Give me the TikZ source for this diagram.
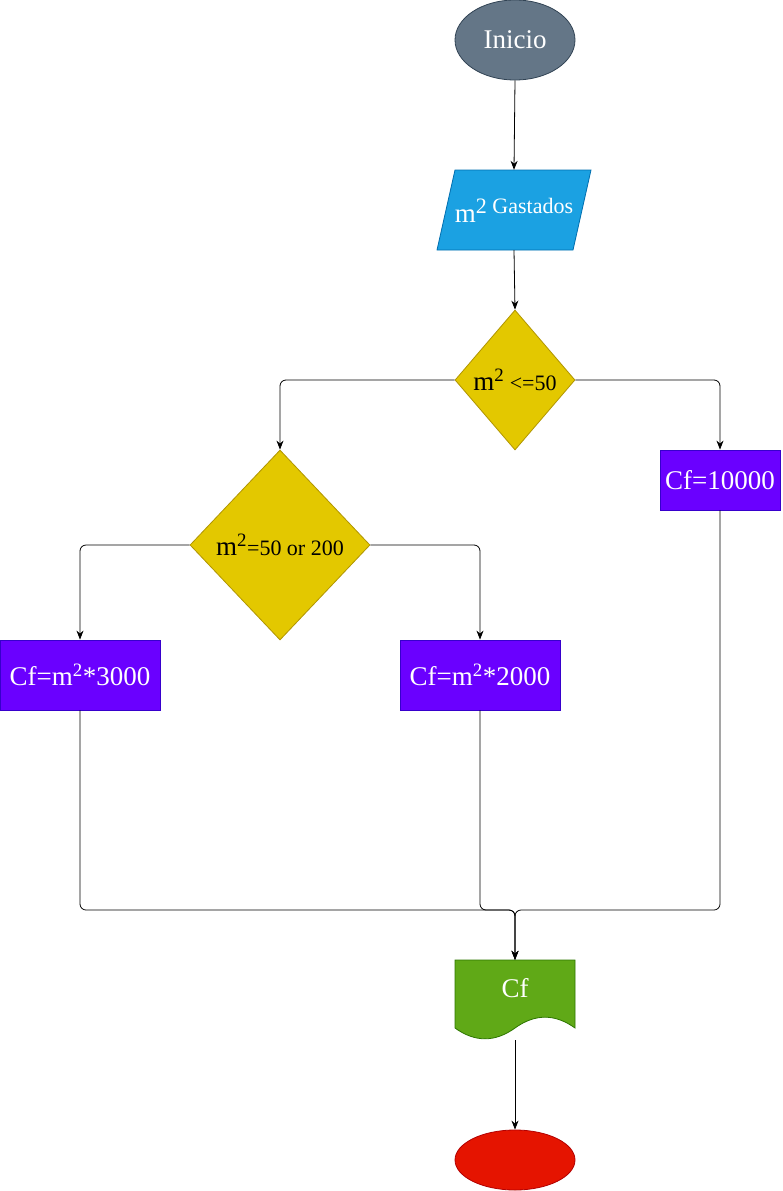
\documentclass[tikz,border=0pt]{standalone}
\usepackage{fontspec}
\setmainfont{Liberation Serif}
\usetikzlibrary{shapes.geometric,arrows.meta}
\definecolor{grisDebut}{HTML}{647687}
\definecolor{grisDebutBord}{HTML}{314354}
\definecolor{bleuEntree}{HTML}{1BA1E2}
\definecolor{bleuEntreeBord}{HTML}{006EAF}
\definecolor{jauneTest}{HTML}{E3C800}
\definecolor{jauneTestBord}{HTML}{B09500}
\definecolor{violetCalcul}{HTML}{6A00FF}
\definecolor{violetCalculBord}{HTML}{3700CC}
\definecolor{vertSortie}{HTML}{60A917}
\definecolor{vertSortieBord}{HTML}{2D7600}
\definecolor{rougeFin}{HTML}{E51400}
\definecolor{rougeFinBord}{HTML}{B20000}
\newcommand{\Grand}{\fontsize{27}{32}\selectfont}
\newcommand{\Petit}{\fontsize{22}{26}\selectfont}
\begin{document}
\begin{tikzpicture}[x=1pt,y=-1pt]
	% Styles
	\tikzstyle{fleche}=[->,>={Stealth[length=9pt,width=7pt]},line width=0.8pt,rounded corners=6pt]
	\tikzstyle{terminal}=[ellipse,inner sep=0pt,minimum width=120pt,line width=0.8pt]
	\tikzstyle{entree}=[rectangle,minimum width=136pt,minimum height=80pt,inner sep=0pt,text=white]
	\tikzstyle{ecran}=[fill=bleuEntree,draw=bleuEntreeBord,line width=0.8pt]
	\tikzstyle{test}=[diamond,inner sep=0pt,fill=jauneTest,draw=jauneTestBord,line width=0.8pt,font=\Petit]
	\tikzstyle{calcul}=[rectangle,inner sep=0pt,minimum width=160pt,minimum height=70pt,fill=violetCalcul,draw=violetCalculBord,text=white,line width=0.8pt,font=\Grand]
	\tikzstyle{sortie}=[rectangle,inner sep=0pt,minimum width=120pt,minimum height=80pt,text=white,text height=18pt,text depth=24pt,font=\Grand]
	\tikzstyle{papier}=[fill=vertSortie,draw=vertSortieBord,line width=0.8pt]
	% Dimensions
	\def\ColA{80}
	\def\ColB{280}
	\def\ColC{480}
	\def\ColD{515}
	\def\ColE{720}
	\useasboundingbox (0,0) rectangle (782,1191);
	% Noeuds
	\node[terminal,minimum height=80pt,fill=grisDebut,draw=grisDebutBord,text=white,font=\Grand] (Inicio) at ({\ColD},40) {Inicio};
	\path[ecran] (455,170) -- (591,170) -- (573,250) -- (437,250) -- cycle;
	\node[entree] (Entree) at (514,210) {{\Grand m}\raisebox{9pt}{\Petit 2 Gastados}};
	\node[test,minimum width=120pt,minimum height=140pt] (TestA) at ({\ColD},380) {{\Grand m\textsuperscript{2}} <=50};
	\node[calcul,minimum width=120pt,minimum height=60pt] (CfD) at ({\ColE},480) {Cf=10000};
	\node[test,minimum width=180pt,minimum height=190pt] (TestB) at ({\ColB},545) {{\Grand m\textsuperscript{2}}=50 or 200};
	\node[calcul] (CfA) at ({\ColA},675) {Cf=m\textsuperscript{2}*3000};
	\node[calcul] (CfC) at ({\ColC},675) {Cf=m\textsuperscript{2}*2000};
	\path[papier] (455,960) -- (575,960) -- (575,1028) .. controls (555,1013.6) and (535,1013.6) .. (515,1028) .. controls (495,1042.4) and (475,1042.4) .. (455,1028) -- cycle;
	\node[sortie] (Sortie) at ({\ColD},1000) {Cf};
	\node[terminal,minimum height=60pt,fill=rougeFin,draw=rougeFinBord] (Fin) at ({\ColD},1160) {};
	\coordinate (Jonction) at ({\ColD},910);
	% Arcs
	\draw[fleche] (Inicio.south)--(Entree.north);
	\draw[fleche] (Entree.south)--(TestA.north);
	\draw[fleche] (TestA.west) -| (TestB.north);
	\draw[fleche] (TestA.east) -| (CfD.north);
	\draw[fleche] (TestB.west) -| (CfA.north);
	\draw[fleche] (TestB.east) -| (CfC.north);
	\draw[fleche] (CfA.south) |- (Jonction) -- (Sortie.north);
	\draw[fleche] (CfC.south) |- (Jonction) -- (Sortie.north);
	\draw[fleche] (CfD.south) |- (Jonction) -- (Sortie.north);
	\draw[fleche] (Sortie.south)--(Fin.north);
\end{tikzpicture}
\end{document}
